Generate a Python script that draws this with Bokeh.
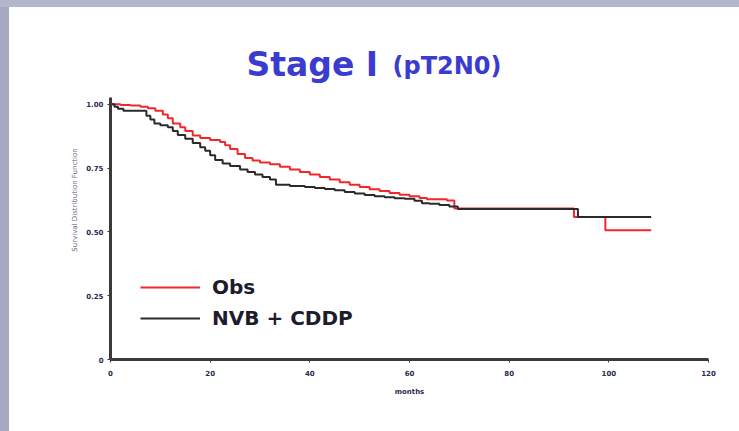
from bokeh.plotting import figure
from bokeh.models import Range1d, FixedTicker, Label, Legend, LegendItem
from bokeh.layouts import column
from bokeh.embed import file_html
from bokeh.resources import INLINE

# Kaplan-Meier estimates
obs_months = [0, 2, 4, 6, 7.5, 9, 10.5, 11.5, 12.5, 14, 15, 16.5, 18, 20, 22, 23, 24,
              25.5, 27, 28.5, 30, 32, 34, 36, 38, 40, 42, 44, 46, 48, 50, 52, 54, 56,
              58, 60, 62, 63.5, 66, 67.5, 69, 93, 99.3, 108.5]
obs_surv = [1.0, 0.997, 0.995, 0.99, 0.985, 0.975, 0.96, 0.945, 0.925, 0.91, 0.895,
            0.878, 0.868, 0.86, 0.852, 0.84, 0.825, 0.805, 0.79, 0.78, 0.772, 0.765,
            0.755, 0.745, 0.735, 0.725, 0.715, 0.705, 0.695, 0.685, 0.676, 0.667,
            0.66, 0.652, 0.646, 0.64, 0.633, 0.628, 0.628, 0.623, 0.592, 0.558,
            0.506, 0.506]

nvb_months = [0, 0.8, 1.5, 2.6, 6.5, 7.2, 8, 8.8, 10, 11.5, 12.5, 13.5, 15, 16.5, 18,
              19, 20, 21, 22.5, 24, 26, 27.5, 29, 30.5, 32, 33.2, 36, 39, 41, 43, 45,
              47, 49, 51, 53, 55, 57, 59, 61, 62.5, 64, 66, 68, 69.7, 93.8, 108.5]
nvb_surv = [1.0, 0.99, 0.983, 0.975, 0.975, 0.955, 0.94, 0.925, 0.918, 0.91, 0.895,
            0.88, 0.865, 0.848, 0.832, 0.818, 0.8, 0.782, 0.768, 0.758, 0.745, 0.735,
            0.725, 0.715, 0.705, 0.685, 0.68, 0.676, 0.672, 0.668, 0.663, 0.656,
            0.65, 0.645, 0.64, 0.636, 0.632, 0.63, 0.622, 0.612, 0.61, 0.605, 0.6,
            0.59, 0.558, 0.558]

x_ticks = [0, 20, 40, 60, 80, 100, 120]
y_ticks = [0, 0.25, 0.5, 0.75, 1.0]
y_tick_labels = {0: "0", 0.25: "0.25", 0.5: "0.50", 0.75: "0.75", 1.0: "1.00"}

series_names = ["Obs", "NVB + CDDP"]
title_main = "Stage I"
title_sub = "(pT2N0)"

p = figure(width=730, height=424, output_backend="svg", toolbar_location=None,
           x_range=Range1d(0, 120), y_range=Range1d(0, 1.25),
           min_border_left=101, min_border_right=31, min_border_top=33,
           min_border_bottom=72)
p.background_fill_color = "white"
p.border_fill_color = "white"
p.outline_line_color = None
p.grid.visible = False

r_obs = p.step(obs_months, obs_surv, mode="after", line_color="#f2262b", line_width=2)
r_nvb = p.step(nvb_months, nvb_surv, mode="after", line_color="#2a2a2a", line_width=2)

for ax in (p.xaxis[0], p.yaxis[0]):
    ax.axis_line_color = "#3a3a3a"
    ax.axis_line_width = 3
    ax.major_tick_line_color = "#3a3a3a"
    ax.major_tick_line_width = 1
    ax.major_tick_in = 0
    ax.major_tick_out = 3
    ax.minor_tick_line_color = None
    ax.major_label_text_font = "DejaVu Sans"
    ax.major_label_text_font_size = "7px"
    ax.major_label_text_font_style = "bold"
    ax.major_label_text_color = "#2a2a50"
    ax.axis_label_text_font = "DejaVu Sans"
    ax.axis_label_text_font_size = "7px"
    ax.axis_label_text_font_style = "normal"

p.xaxis.ticker = FixedTicker(ticks=x_ticks)
p.yaxis.ticker = FixedTicker(ticks=y_ticks)
p.yaxis.bounds = (0, 1.025)
p.yaxis.major_label_overrides = y_tick_labels
p.xaxis.axis_label = "months"
p.xaxis.axis_label_text_font_style = "bold"
p.xaxis.axis_label_text_color = "#2a2a50"
p.xaxis.axis_label_standoff = 9
p.xaxis.major_label_standoff = 7
p.yaxis.axis_label = "Survival Distribution Function"
p.yaxis.axis_label_text_color = "#6a6a80"
p.yaxis.axis_label_standoff = 4
p.yaxis.major_label_standoff = 4

p.add_layout(Label(x=53.7, y=1.155, text=title_main, text_font="DejaVu Sans",
                   text_font_style="bold", text_font_size="33px", text_color="#3b3bcf",
                   text_align="right", text_baseline="alphabetic"))
p.add_layout(Label(x=56.6, y=1.152, text=title_sub, text_font="DejaVu Sans",
                   text_font_style="bold", text_font_size="24px", text_color="#3b3bcf",
                   text_align="left", text_baseline="alphabetic"))

legend = Legend(items=[LegendItem(label=series_names[0], renderers=[r_obs]),
                       LegendItem(label=series_names[1], renderers=[r_nvb])],
                location=(30, 29), border_line_color=None, background_fill_alpha=0,
                label_text_font="DejaVu Sans", label_text_font_style="bold",
                label_text_font_size="20px", label_text_color="#1c1c2c",
                glyph_width=60, glyph_height=20, spacing=7, label_standoff=12,
                padding=0, margin=0)
p.add_layout(legend)

layout = column(p, styles={
    "background": "linear-gradient(#b2b5cb 7px, transparent 7px), "
                  "linear-gradient(to right, #a6a8c2 9px, white 9px)",
    "padding": "7px 0px 0px 9px"})

open("out.html", "w").write(file_html(layout, INLINE))
